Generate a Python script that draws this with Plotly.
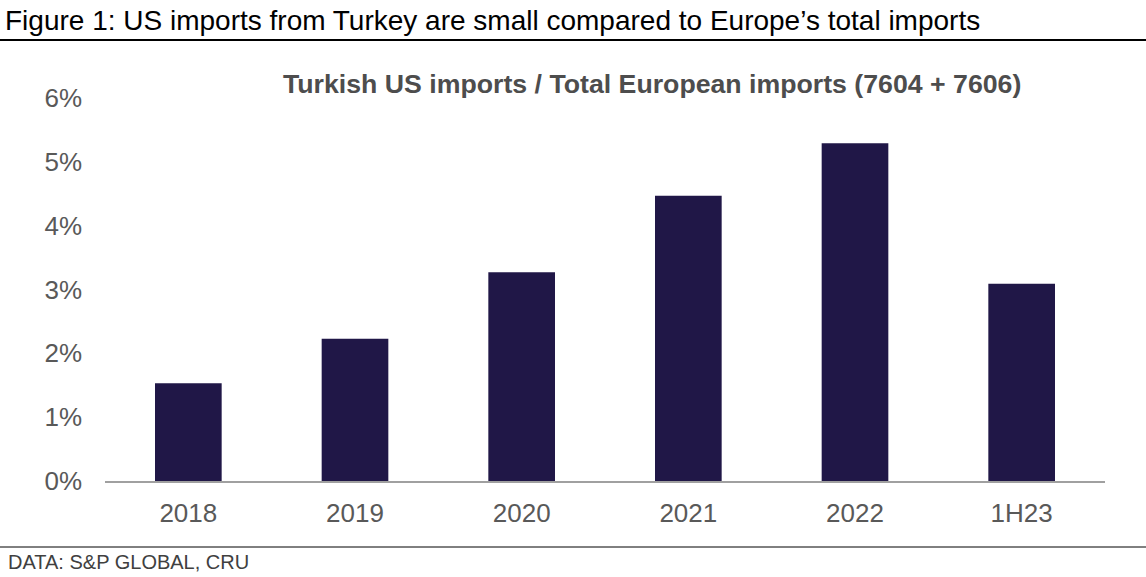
import plotly.graph_objects as go

categories = ["2018", "2019", "2020", "2021", "2022", "1H23"]
share_pct = [1.53, 2.23, 3.27, 4.47, 5.29, 3.09]
y_ticks = [0, 1, 2, 3, 4, 5, 6]
y_tick_labels = ["0%", "1%", "2%", "3%", "4%", "5%", "6%"]

W, H = 1146, 577
L, R, T, B = 105, 41, 98, 96

fig = go.Figure()
fig.add_trace(go.Bar(
    x=categories, y=share_pct,
    marker=dict(color="#201747", line=dict(width=0)),
    hoverinfo="skip",
))

fig.update_layout(
    width=W, height=H,
    margin=dict(l=L, r=R, t=T, b=B),
    paper_bgcolor="white", plot_bgcolor="white",
    bargap=0.6,
    showlegend=False,
    font=dict(family="Liberation Sans, Arial, sans-serif", color="#595959"),
    xaxis=dict(
        showgrid=False, zeroline=False,
        showline=True, linecolor="#a0a0a0", linewidth=2,
        ticks="", tickfont=dict(size=26, color="#595959"),
        ticklabelstandoff=8,
    ),
    yaxis=dict(
        range=[0, 6], tickvals=y_ticks, ticktext=y_tick_labels,
        showgrid=False, zeroline=False, showline=False,
        ticks="", tickfont=dict(size=26, color="#595959"),
        ticklabelstandoff=22,
    ),
)

def px_to_paper_y(py):
    return 1 - (py - T) / (H - T - B)

def px_to_paper_x(px):
    return (px - L) / (W - L - R)

fig.add_annotation(
    text="Figure 1: US imports from Turkey are small compared to Europe\u2019s total imports",
    xref="paper", yref="paper",
    x=px_to_paper_x(3), y=px_to_paper_y(20),
    xanchor="left", yanchor="middle", showarrow=False,
    font=dict(size=28, color="#000000"),
)
fig.add_annotation(
    text="<b>Turkish US imports / Total European imports (7604 + 7606)</b>",
    xref="paper", yref="paper",
    x=px_to_paper_x(652), y=px_to_paper_y(84),
    xanchor="center", yanchor="middle", showarrow=False,
    font=dict(size=26.7, color="#4d4d4d"),
)
fig.add_annotation(
    text="DATA: S&P GLOBAL, CRU",
    xref="paper", yref="paper",
    x=px_to_paper_x(6), y=px_to_paper_y(562),
    xanchor="left", yanchor="middle", showarrow=False,
    font=dict(size=20, color="#404040"),
)

fig.add_shape(type="line", xref="paper", yref="paper",
              x0=px_to_paper_x(0), x1=px_to_paper_x(W),
              y0=px_to_paper_y(40), y1=px_to_paper_y(40),
              line=dict(color="#000000", width=2))
fig.add_shape(type="line", xref="paper", yref="paper",
              x0=px_to_paper_x(0), x1=px_to_paper_x(W),
              y0=px_to_paper_y(547), y1=px_to_paper_y(547),
              line=dict(color="#000000", width=1))

fig.write_html("out.html", config={"displayModeBar": False},
               post_script="document.body.style.margin='0';")
